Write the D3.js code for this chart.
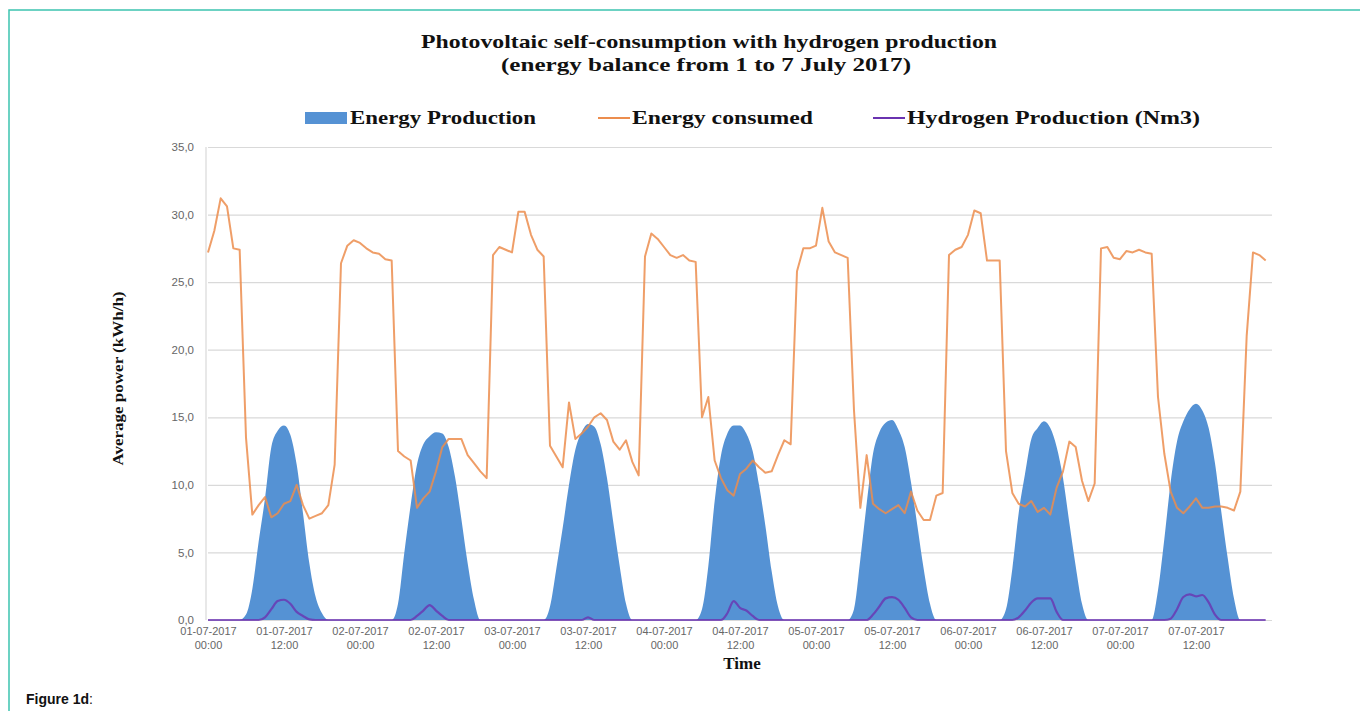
<!DOCTYPE html>
<html>
<head>
<meta charset="utf-8">
<script src="https://cdn.jsdelivr.net/npm/d3@7"></script>
<style>
  body { margin: 0; background: #fff; }
  svg { display: block; }
  .serifBold { font-family: "Liberation Serif", "Times New Roman", serif; font-weight: bold; fill: #111; }
  .tick text { font-family: "Liberation Sans", Arial, sans-serif; fill: #666; }
</style>
</head>
<body>
<svg id="chart" width="1360" height="711"></svg>
<script>
const svg = d3.select('#chart');

// Dati (un valore per ora, 1-7 luglio 2017)
const titleLines = ['Photovoltaic self-consumption with hydrogen production', '(energy balance from 1 to 7 July 2017)'];
const seriesNames = ['Energy Production', 'Energy consumed', 'Hydrogen Production (Nm3)'];
const yTicks = [0, 5, 10, 15, 20, 25, 30, 35];
const xTickHours = [0, 12, 24, 36, 48, 60, 72, 84, 96, 108, 120, 132, 144, 156];
const xTickLabels = ['01-07-2017 00:00', '01-07-2017 12:00', '02-07-2017 00:00', '02-07-2017 12:00',
  '03-07-2017 00:00', '03-07-2017 12:00', '04-07-2017 00:00', '04-07-2017 12:00',
  '05-07-2017 00:00', '05-07-2017 12:00', '06-07-2017 00:00', '06-07-2017 12:00',
  '07-07-2017 00:00', '07-07-2017 12:00'];

const production = [
  0,0,0,0,0,0,0.4,2.3,5.8,9.0,12.8,14.0,14.4,13.7,11.5,7.9,4.2,1.7,0.5,0,0,0,0,0,
  0,0,0,0,0,0,1.2,5.0,8.5,11.5,13.0,13.6,13.9,13.8,12.8,10.6,7.5,4.2,1.5,0,0,0,0,0,
  0,0,0,0,0,0,1.0,3.8,6.8,10.0,12.6,13.9,14.5,14.3,13.0,10.5,7.2,4.0,1.2,0,0,0,0,0,
  0,0,0,0,0,0,0.8,4.0,8.8,12.2,13.8,14.4,14.4,13.8,12.5,10.0,7.0,3.6,1.0,0,0,0,0,0,
  0,0,0,0,0,0,0.8,4.5,8.6,12.3,13.9,14.6,14.8,14.1,12.8,10.2,7.0,3.8,1.2,0,0,0,0,0,
  0,0,0,0,0,0,0.8,3.8,7.9,10.8,13.4,14.2,14.7,14.2,12.8,10.5,7.2,4.0,1.2,0,0,0,0,0,
  0,0,0,0,0,0,2.2,6.0,10.2,13.2,14.7,15.6,16.0,15.5,14.2,11.6,8.0,4.6,1.6,0,0,0,0,0
];

const consumed = [
  27.2,28.8,31.2,30.6,27.5,27.4,13.5,7.8,8.5,9.1,7.6,7.9,8.6,8.8,10.0,8.5,7.5,7.7,7.9,8.5,11.5,26.4,27.7,28.1,
  27.9,27.5,27.2,27.1,26.7,26.6,12.5,12.1,11.8,8.3,9.0,9.5,11.0,12.8,13.4,13.4,13.4,12.2,11.6,11.0,10.5,27.0,27.6,27.4,
  27.2,30.2,30.2,28.5,27.4,26.9,12.9,12.1,11.3,16.1,13.4,13.8,14.3,15.0,15.3,14.8,13.2,12.6,13.3,11.7,10.7,26.9,28.6,28.2,
  27.6,27.0,26.8,27.0,26.6,26.5,15.0,16.5,11.8,10.5,9.6,9.2,10.8,11.2,11.8,11.3,10.9,11.0,12.2,13.3,13.0,25.8,27.5,27.5,
  27.7,30.5,28.0,27.2,27.0,26.8,15.5,8.3,12.2,8.6,8.2,7.9,8.2,8.5,7.9,9.5,8.1,7.4,7.4,9.2,9.4,27.0,27.4,27.6,
  28.5,30.3,30.1,26.6,26.6,26.6,12.5,9.4,8.6,8.4,8.8,8.0,8.3,7.8,9.8,11.0,13.2,12.8,10.3,8.8,10.1,27.5,27.6,26.8,
  26.7,27.3,27.2,27.4,27.2,27.1,16.5,12.3,9.5,8.3,7.9,8.4,9.0,8.3,8.3,8.4,8.4,8.3,8.1,9.5,21.0,27.2,27.0,26.6
];

const hydrogen = [
  0,0,0,0,0,0,0,0,0,0.2,0.8,1.4,1.5,1.2,0.6,0.3,0.05,0,0,0,0,0,0,0,
  0,0,0,0,0,0,0,0,0,0.3,0.7,1.1,0.7,0.3,0,0,0,0,0,0,0,0,0,0,
  0,0,0,0,0,0,0,0,0,0,0,0,0.2,0,0,0,0,0,0,0,0,0,0,0,
  0,0,0,0,0,0,0,0,0,0,0.5,1.4,0.9,0.7,0.3,0,0,0,0,0,0,0,0,0,
  0,0,0,0,0,0,0,0,0,0.4,1.0,1.6,1.7,1.5,0.9,0.2,0,0,0,0,0,0,0,0,
  0,0,0,0,0,0,0,0,0.2,0.7,1.3,1.6,1.6,1.6,0.6,0,0,0,0,0,0,0,0,0,
  0,0,0,0,0,0,0,0,0.1,0.8,1.7,1.9,1.75,1.85,1.3,0.4,0,0,0,0,0,0,0,0
];

const render = () => {
  // Settaggi generali
  const margin = {top: 147, right: 88, bottom: 91, left: 208};
  const width = +svg.attr('width');
  const height = +svg.attr('height');
  const innerWidth = width - margin.left - margin.right;
  const innerHeight = height - margin.top - margin.bottom;

  const colors = {prod: '#5592d4', cons: '#ec8d4e', hydro: '#6a33b0'};

  // Cornice della figura
  svg.append('path')
    .attr('d', `M9,${height} L9,10 L${width},10`)
    .attr('fill', 'none')
    .attr('stroke', '#3cc4b0')
    .attr('stroke-width', 1.5);

  svg.append('text')
    .attr('x', 26).attr('y', 704)
    .attr('font-family', '"Liberation Sans", Arial, sans-serif')
    .attr('font-size', 14).attr('fill', '#111')
    .html('<tspan font-weight="bold">Figure 1d</tspan>:');

  // Scale
  const xScale = d3.scaleLinear().domain([0, 168]).range([0, innerWidth]);
  const yScale = d3.scaleLinear().domain([0, 35]).range([innerHeight, 0]);

  const g = svg.append('g')
    .attr('transform', `translate(${margin.left}, ${margin.top})`);

  // Asse y con griglia
  const yAxis = d3.axisLeft(yScale)
    .tickValues(yTicks)
    .tickFormat(d => d.toFixed(1).replace('.', ','))
    .tickSize(-innerWidth)
    .tickPadding(14);

  const yAxisG = g.append('g').call(yAxis);
  yAxisG.select('.domain').remove();
  yAxisG.selectAll('.tick line').attr('stroke', '#d9d9d9').attr('stroke-width', 1.2);
  yAxisG.selectAll('.tick text').attr('font-size', 11.5);

  g.append('line')
    .attr('x1', -2).attr('x2', -2)
    .attr('y1', 0).attr('y2', innerHeight)
    .attr('stroke', '#d9d9d9').attr('stroke-width', 1.2);

  // Asse x
  const xAxis = d3.axisBottom(xScale)
    .tickValues(xTickHours)
    .tickSize(0)
    .tickPadding(7)
    .tickFormat((d, i) => xTickLabels[i]);

  const xAxisG = g.append('g')
    .attr('transform', `translate(0, ${innerHeight})`)
    .call(xAxis);
  xAxisG.select('.domain').remove();
  xAxisG.selectAll('.tick text')
    .attr('font-size', 11)
    .attr('textLength', 58).attr('lengthAdjust', 'spacingAndGlyphs')
    .each(function(d, i) {
      const parts = xTickLabels[i].split(' ');
      const t = d3.select(this).text(null).attr('textLength', null);
      t.append('tspan').attr('x', 0).attr('dy', '0.71em').text(parts[0]);
      t.append('tspan').attr('x', 0).attr('dy', '1.3em').text(parts[1]);
    });

  // Serie
  const areaGenerator = d3.area()
    .x((d, i) => xScale(i))
    .y0(yScale(0))
    .y1(d => yScale(d))
    .curve(d3.curveMonotoneX);

  const lineGenerator = d3.line()
    .x((d, i) => xScale(i))
    .y(d => yScale(d));

  g.append('path')
    .attr('fill', colors.prod)
    .attr('d', areaGenerator(production));

  g.append('path')
    .attr('fill', 'none')
    .attr('stroke', colors.cons)
    .attr('stroke-width', 2)
    .attr('stroke-opacity', 0.85)
    .attr('stroke-linejoin', 'round')
    .attr('d', lineGenerator(consumed));

  g.append('path')
    .attr('fill', 'none')
    .attr('stroke', colors.hydro)
    .attr('stroke-width', 2.2)
    .attr('stroke-opacity', 0.8)
    .attr('stroke-linejoin', 'round')
    .attr('d', lineGenerator.curve(d3.curveMonotoneX)(hydrogen));

  // Titoli
  svg.append('text')
    .attr('class', 'serifBold')
    .attr('x', 709).attr('y', 48)
    .attr('text-anchor', 'middle')
    .attr('font-size', 19)
    .attr('textLength', 576).attr('lengthAdjust', 'spacingAndGlyphs')
    .text(titleLines[0]);

  svg.append('text')
    .attr('class', 'serifBold')
    .attr('x', 706).attr('y', 71)
    .attr('text-anchor', 'middle')
    .attr('font-size', 19)
    .attr('textLength', 410).attr('lengthAdjust', 'spacingAndGlyphs')
    .text(titleLines[1]);

  g.append('text')
    .attr('class', 'serifBold')
    .attr('transform', 'rotate(-90)')
    .attr('x', -innerHeight / 2 + 5)
    .attr('y', -85)
    .attr('text-anchor', 'middle')
    .attr('font-size', 15)
    .attr('textLength', 174).attr('lengthAdjust', 'spacingAndGlyphs')
    .text('Average power (kWh/h)');

  svg.append('text')
    .attr('class', 'serifBold')
    .attr('x', 742).attr('y', 669)
    .attr('text-anchor', 'middle')
    .attr('font-size', 17)
    .text('Time');

  // Legenda
  const legendItems = [
    {name: seriesNames[0], color: colors.prod, kind: 'rect', x: 305, len: 186},
    {name: seriesNames[1], color: colors.cons, kind: 'line', x: 598, len: 181},
    {name: seriesNames[2], color: colors.hydro, kind: 'line', x: 873, len: 293}
  ];
  const legendY = 118;
  const legendG = svg.append('g');
  legendItems.forEach(item => {
    if (item.kind === 'rect') {
      legendG.append('rect')
        .attr('x', item.x).attr('y', legendY - 6)
        .attr('width', 42).attr('height', 12)
        .attr('fill', item.color);
    } else {
      legendG.append('line')
        .attr('x1', item.x).attr('x2', item.x + 32)
        .attr('y1', legendY).attr('y2', legendY)
        .attr('stroke', item.color).attr('stroke-width', 2);
    }
    legendG.append('text')
      .attr('class', 'serifBold')
      .attr('x', item.kind === 'rect' ? item.x + 45 : item.x + 34)
      .attr('y', legendY + 6)
      .attr('font-size', 19)
      .attr('textLength', item.len).attr('lengthAdjust', 'spacingAndGlyphs')
      .text(item.name);
  });
};

render();
</script>
</body>
</html>
